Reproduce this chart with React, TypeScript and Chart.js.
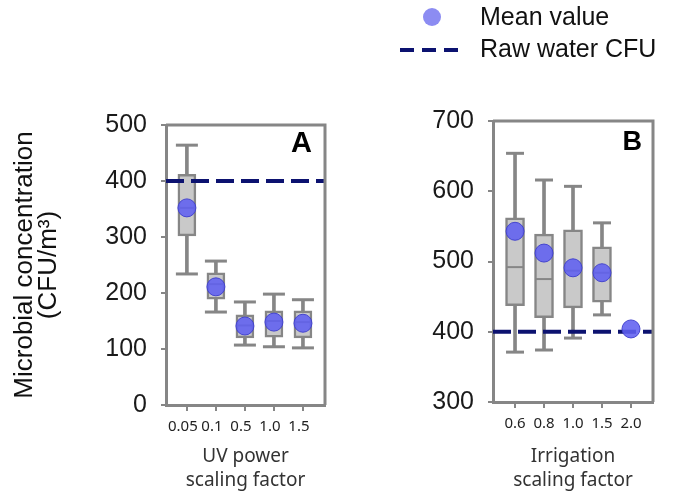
import React, { useEffect, useRef } from 'react';
import { Chart, registerables } from 'chart.js';

Chart.register(...registerables);

// Panel A: UV power scaling factor
const uvFactors = ['0.05', '0.1', '0.5', '1.0', '1.5'];
const uvMin = [234, 166, 107, 104, 102];
const uvQ1 = [302, 189, 120, 121, 120];
const uvMedian = [352, 216, 142, 150, 148];
const uvQ3 = [412, 236, 161, 168, 168];
const uvMax = [464, 257, 184, 198, 188];
const uvMean = [352, 211, 141, 148, 146];

// Panel B: irrigation scaling factor (the 2.0 case only has a mean)
const irrFactors = ['0.6', '0.8', '1.0', '1.5', '2.0'];
const irrMin = [371, 374, 391, 424, null];
const irrQ1 = [437, 420, 434, 442, null];
const irrMedian = [492, 475, 487, 484, null];
const irrQ3 = [562, 539, 545, 521, null];
const irrMax = [654, 616, 607, 555, null];
const irrMean = [543, 512, 491, 484, 404];

const rawWaterCfu = 400;
const uvTicks = [0, 100, 200, 300, 400, 500];
const irrTicks = [300, 400, 500, 600, 700];

const GRAY = '#868686';
const BOX_FILL = '#c9c9c9';
const NAVY = '#0c1270';
const MEAN_FILL = 'rgba(96, 96, 240, 0.88)';
const MEAN_BORDER = 'rgba(64, 64, 205, 0.95)';
const LEGEND_DOT = '#8c8cf2';

type Stat = (number | null)[];

interface PanelSpec {
  labels: string[];
  min: Stat;
  q1: Stat;
  median: Stat;
  q3: Stat;
  max: Stat;
  mean: number[];
  yTicks: number[];
  xMin: number;
  xMax: number;
  yAxisWidth: number;
  xAxisHeight: number;
  padTop: number;
  padRight: number;
  boxWidth: number;
  capRadius: number;
  labelShift: number;
  letter: string;
  letterSize: number;
  letterDx: number;
  letterDy: number;
  xTitle: string[];
  yTitle?: string[];
  legend?: boolean;
}

const frame = {
  id: 'frame',
  afterDatasetsDraw(chart: any) {
    const { ctx, chartArea } = chart;
    ctx.save();
    ctx.strokeStyle = GRAY;
    ctx.lineWidth = 3;
    ctx.beginPath();
    ctx.moveTo(chartArea.left, chartArea.top);
    ctx.lineTo(chartArea.right, chartArea.top);
    ctx.lineTo(chartArea.right, chartArea.bottom);
    ctx.stroke();
    ctx.restore();
  },
};

const panelTag = {
  id: 'panelTag',
  afterDraw(chart: any, _args: any, opts: any) {
    const { ctx, chartArea } = chart;
    ctx.save();
    ctx.font = `bold ${opts.size}px "Liberation Sans", Arial, sans-serif`;
    ctx.fillStyle = '#000';
    ctx.textAlign = 'right';
    ctx.textBaseline = 'alphabetic';
    ctx.fillText(opts.text, chartArea.right - opts.dx, chartArea.top + opts.dy);
    ctx.restore();
  },
};

const keyBox = {
  id: 'keyBox',
  afterDraw(chart: any, _args: any, opts: any) {
    if (!opts.show) return;
    const { ctx } = chart;
    ctx.save();
    ctx.fillStyle = LEGEND_DOT;
    ctx.beginPath();
    ctx.arc(92, 17, 9, 0, Math.PI * 2);
    ctx.fill();
    ctx.strokeStyle = NAVY;
    ctx.lineWidth = 4;
    ctx.setLineDash([14, 8]);
    ctx.beginPath();
    ctx.moveTo(60, 50);
    ctx.lineTo(118, 50);
    ctx.stroke();
    ctx.setLineDash([]);
    ctx.fillStyle = '#111';
    ctx.font = '25px "Liberation Sans", Arial, sans-serif';
    ctx.textAlign = 'left';
    ctx.textBaseline = 'alphabetic';
    ctx.fillText('Mean value', 140, 25);
    ctx.fillText('Raw water CFU', 140, 57);
    ctx.restore();
  },
};

function buildConfig(p: PanelSpec): any {
  const positions = p.labels.map((_, i) => i + 1);
  const withBox = positions.filter((_, i) => p.q1[i] !== null);
  const stems = withBox.map((x) => ({ x, y: [p.min[x - 1], p.max[x - 1]] }));
  const boxes = withBox.map((x) => ({ x, y: [p.q1[x - 1], p.q3[x - 1]] }));
  const caps = withBox.flatMap((x) => [
    { x, y: p.min[x - 1] },
    { x, y: p.max[x - 1] },
  ]);
  const medians = withBox.map((x) => ({ x, y: p.median[x - 1] }));
  const means = positions.map((x) => ({ x, y: p.mean[x - 1] }));
  const rawLine = [
    { x: p.xMin, y: rawWaterCfu },
    { x: p.xMax, y: rawWaterCfu },
  ];

  const tickFont = { family: '"Liberation Sans", Arial, sans-serif', size: 25 };
  const smallFont = { family: '"Noto Sans", sans-serif', size: 15 };

  return {
    type: 'bar',
    data: {
      datasets: [
        {
          type: 'bar',
          label: 'Range',
          data: stems,
          backgroundColor: GRAY,
          borderWidth: 0,
          barThickness: 3,
          grouped: false,
          order: 6,
        },
        {
          type: 'scatter',
          label: 'Whisker caps',
          data: caps,
          pointStyle: 'line',
          pointRadius: p.capRadius,
          pointBorderWidth: 3,
          pointBorderColor: GRAY,
          borderColor: GRAY,
          order: 5,
        },
        {
          type: 'bar',
          label: 'Interquartile range',
          data: boxes,
          backgroundColor: BOX_FILL,
          borderColor: GRAY,
          borderWidth: 2.5,
          borderSkipped: false,
          barThickness: p.boxWidth,
          grouped: false,
          order: 4,
        },
        {
          type: 'scatter',
          label: 'Median',
          data: medians,
          pointStyle: 'line',
          pointRadius: p.boxWidth / 2 - 1,
          pointBorderWidth: 2,
          pointBorderColor: GRAY,
          borderColor: GRAY,
          order: 3,
        },
        {
          type: 'line',
          label: 'Raw water CFU',
          data: rawLine,
          borderColor: NAVY,
          borderWidth: 4,
          borderDash: [18, 7],
          pointRadius: 0,
          fill: false,
          order: 2,
        },
        {
          type: 'scatter',
          label: 'Mean value',
          data: means,
          pointStyle: 'circle',
          pointRadius: 9,
          pointBackgroundColor: MEAN_FILL,
          pointBorderColor: MEAN_BORDER,
          pointBorderWidth: 1,
          backgroundColor: MEAN_FILL,
          borderColor: MEAN_BORDER,
          order: 1,
        },
      ],
    },
    options: {
      responsive: false,
      animation: false,
      events: [],
      layout: { padding: { top: p.padTop, right: p.padRight, left: 0, bottom: 0 } },
      scales: {
        x: {
          type: 'linear',
          min: p.xMin,
          max: p.xMax,
          offset: false,
          afterBuildTicks: (s: any) => {
            s.ticks = positions.map((v) => ({ value: v }));
          },
          afterFit: (s: any) => {
            s.height = p.xAxisHeight;
          },
          ticks: {
            autoSkip: false,
            maxRotation: 0,
            minRotation: 0,
            padding: 7,
            labelOffset: p.labelShift,
            color: '#222',
            font: smallFont,
            callback: (v: any) => p.labels[Math.round(Number(v)) - 1] ?? '',
          },
          grid: {
            offset: false,
            drawOnChartArea: false,
            drawTicks: true,
            tickLength: 6,
            color: GRAY,
            lineWidth: 2,
          },
          border: { display: true, color: GRAY, width: 3 },
          title: {
            display: true,
            text: p.xTitle,
            color: '#333',
            font: { family: '"Noto Sans", sans-serif', size: 19, lineHeight: '24px' },
            padding: { top: 0, bottom: 1 },
          },
        },
        y: {
          type: 'linear',
          min: p.yTicks[0],
          max: p.yTicks[p.yTicks.length - 1],
          afterBuildTicks: (s: any) => {
            s.ticks = p.yTicks.map((v) => ({ value: v }));
          },
          afterFit: (s: any) => {
            s.width = p.yAxisWidth;
          },
          ticks: { padding: 14, color: '#1a1a1a', font: tickFont },
          grid: { drawOnChartArea: false, drawTicks: true, tickLength: 5, color: GRAY, lineWidth: 2 },
          border: { display: true, color: GRAY, width: 3 },
          title: {
            display: !!p.yTitle,
            text: p.yTitle ?? '',
            color: '#111',
            font: { family: '"Liberation Sans", Arial, sans-serif', size: 26, lineHeight: '24px' },
            padding: { top: 13, bottom: 0 },
          },
        },
      },
      plugins: {
        legend: { display: false },
        tooltip: { enabled: false },
        panelTag: { text: p.letter, size: p.letterSize, dx: p.letterDx, dy: p.letterDy },
        keyBox: { show: !!p.legend },
      },
    },
    plugins: [frame, panelTag, keyBox],
  };
}

const panelA: PanelSpec = {
  labels: uvFactors,
  min: uvMin,
  q1: uvQ1,
  median: uvMedian,
  q3: uvQ3,
  max: uvMax,
  mean: uvMean,
  yTicks: uvTicks,
  xMin: 0.28,
  xMax: 5.76,
  yAxisWidth: 166,
  xAxisHeight: 89,
  padTop: 125,
  padRight: 15,
  boxWidth: 18,
  capRadius: 11,
  labelShift: -4,
  letter: 'A',
  letterSize: 29,
  letterDx: 13,
  letterDy: 27,
  xTitle: ['UV power', 'scaling factor'],
  yTitle: ['Microbial concentration', '(CFU/m³)'],
};

const panelB: PanelSpec = {
  labels: irrFactors,
  min: irrMin,
  q1: irrQ1,
  median: irrMedian,
  q3: irrQ3,
  max: irrMax,
  mean: irrMean,
  yTicks: irrTicks,
  xMin: 0.24,
  xMax: 5.76,
  yAxisWidth: 153,
  xAxisHeight: 92,
  padTop: 121,
  padRight: 21,
  boxWidth: 19,
  capRadius: 9,
  labelShift: 0,
  letter: 'B',
  letterSize: 27,
  letterDx: 11,
  letterDy: 29,
  xTitle: ['Irrigation', 'scaling factor'],
  legend: true,
};

function PanelChart({ spec, left, width }: { spec: PanelSpec; left: number; width: number }) {
  const ref = useRef<HTMLCanvasElement | null>(null);
  useEffect(() => {
    if (!ref.current) return;
    const chart = new Chart(ref.current, buildConfig(spec));
    return () => chart.destroy();
  }, [spec]);
  return (
    <canvas
      ref={ref}
      width={width}
      height={494}
      style={{ position: 'absolute', left, top: 0, width, height: 494, display: 'block' }}
    />
  );
}

export default function App() {
  return (
    <div style={{ position: 'fixed', left: 0, top: 0, width: 674, height: 494, background: '#fff', overflow: 'hidden' }}>
      <PanelChart spec={panelA} left={0} width={340} />
      <PanelChart spec={panelB} left={340} width={334} />
    </div>
  );
}
